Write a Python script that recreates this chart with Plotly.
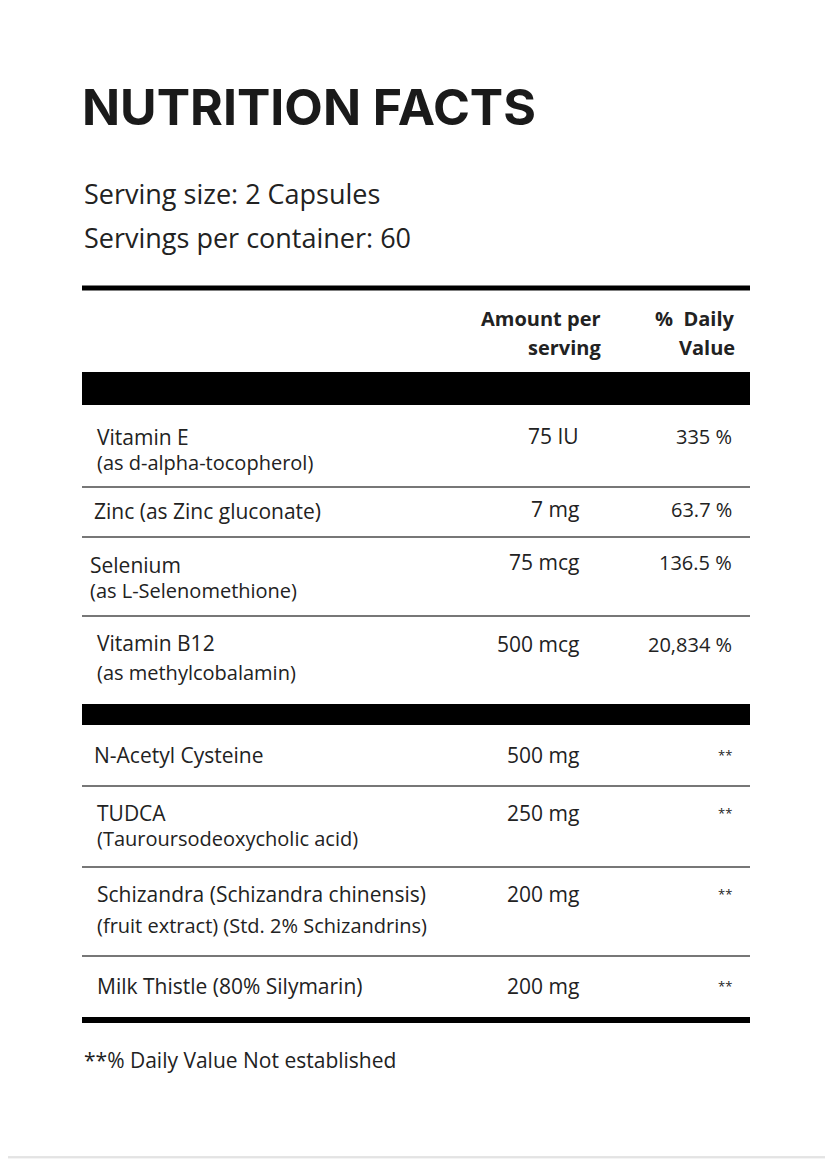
import plotly.graph_objects as go

W, H = 833, 1159
title = "NUTRITION FACTS"
serving = ["Serving size: 2 Capsules", "Servings per container: 60"]
hdr_amount = ["Amount per", "serving"]
hdr_dv = ["%  Daily", "Value"]
names = ["Vitamin E", "Zinc (as Zinc gluconate)", "Selenium", "Vitamin B12",
         "N-Acetyl Cysteine", "TUDCA", "Schizandra (Schizandra chinensis)", "Milk Thistle (80% Silymarin)"]
subs = ["(as d-alpha-tocopherol)", "", "(as L-Selenomethione)", "(as methylcobalamin)",
        "", "(Tauroursodeoxycholic acid)", "(fruit extract) (Std. 2% Schizandrins)", ""]
amounts = ["75 IU", "7 mg", "75 mcg", "500 mcg", "500 mg", "250 mg", "200 mg", "200 mg"]
dvs = ["335 %", "63.7 %", "136.5 %", "20,834 %", "**", "**", "**", "**"]
footnote = "**% Daily Value Not established"

# layout positions (px)
name_y = [437, 511, 565, 643, 755, 813, 894, 986]
sub_y = [462, None, 590, 672, None, 838, 925, None]
amt_y = [436, 509, 562, 644, 755, 813, 894, 986]
name_x = [95, 92, 88, 95, 92, 95, 95, 95]
thin_lines = [487, 537, 616, 786, 867, 956]

OFF = 8  # page body margin
fig = go.Figure()
shapes = [
    dict(type="rect", x0=2, y0=2, x1=W - 2, y1=H - 2, line=dict(color="#dddddd", width=1.5),
         fillcolor="white", layer="below"),
    dict(type="line", x0=82, x1=750, y0=288, y1=288, line=dict(color="black", width=5)),
    dict(type="rect", x0=82, x1=750, y0=372, y1=405, fillcolor="black", line=dict(width=0)),
    dict(type="rect", x0=82, x1=750, y0=704, y1=725, fillcolor="black", line=dict(width=0)),
    dict(type="line", x0=82, x1=750, y0=1020, y1=1020, line=dict(color="black", width=6)),
]
for y in thin_lines:
    shapes.append(dict(type="line", x0=82, x1=750, y0=y, y1=y, line=dict(color="#777", width=2)))

F = "Open Sans"
TC = "#222"
ann = []
def t(x, y, s, size, anchor="left", bold=False, color=TC):
    ann.append(dict(x=x, y=y, xref="x", yref="y", text=f"<b>{s}</b>" if bold else s,
                    showarrow=False, xanchor=anchor, yanchor="middle",
                    font=dict(family=F, size=size, color=color)))

ann.append(dict(x=80, y=107, xref="x", yref="y", text=f"<b>{title}</b>", showarrow=False,
                xanchor="left", yanchor="middle", font=dict(family="Inter", size=50, color="#1a1a1a")))
t(82, 193, serving[0], 27)
t(82, 237, serving[1], 27)
t(603, 318, hdr_amount[0], 20, "right", True)
t(603, 347, hdr_amount[1], 20, "right", True)
t(737, 318, hdr_dv[0], 20, "right", True)
t(737, 347, hdr_dv[1], 20, "right", True)
for i in range(len(names)):
    t(name_x[i], name_y[i], names[i], 21)
    if sub_y[i]:
        t(name_x[i], sub_y[i], subs[i], 20)
    t(581, amt_y[i], amounts[i], 21, "right")
    t(734, amt_y[i], dvs[i], 20 if dvs[i] != "**" else 13, "right")
t(82, 1060, footnote, 21)

fig.update_layout(width=W, height=H, margin=dict(l=0, r=0, t=0, b=0),
                  paper_bgcolor="#f4f4f4", plot_bgcolor="#f4f4f4",
                  xaxis=dict(range=[OFF, W + OFF], visible=False, fixedrange=True),
                  yaxis=dict(range=[H + OFF, OFF], visible=False, fixedrange=True),
                  shapes=shapes, annotations=ann, showlegend=False)
fig.write_html("out.html")
